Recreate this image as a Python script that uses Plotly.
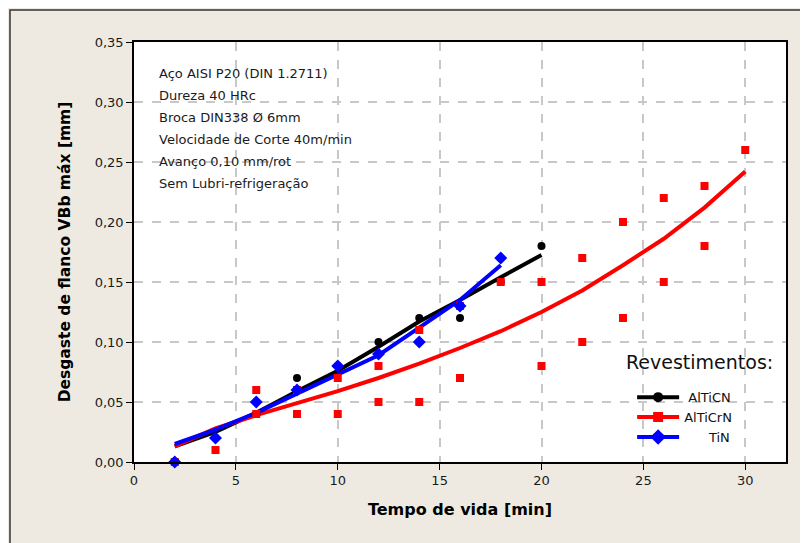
import plotly.graph_objects as go

# ---------------- data ----------------
series_names = ["AlTiCN", "AlTiCrN", "TiN"]

# measured points
altcn_t = [2, 4, 6, 8, 10, 12, 14, 16, 18, 20]
altcn_vb = [0.00, 0.02, 0.04, 0.07, 0.08, 0.10, 0.12, 0.12, 0.15, 0.18]

altcrn_t = [2, 4, 6, 6, 8, 8, 10, 10, 12, 12, 14, 14, 16, 16, 18,
            20, 20, 22, 22, 24, 24, 26, 26, 28, 28, 30]
altcrn_vb = [0.00, 0.01, 0.06, 0.04, 0.06, 0.04, 0.07, 0.04, 0.08, 0.05, 0.11, 0.05,
             0.13, 0.07, 0.15, 0.15, 0.08, 0.17, 0.10, 0.20, 0.12, 0.22, 0.15,
             0.23, 0.18, 0.26]

tin_t = [2, 4, 6, 8, 10, 12, 14, 16, 18]
tin_vb = [0.00, 0.02, 0.05, 0.06, 0.08, 0.09, 0.10, 0.13, 0.17]

# fitted trend lines
altcn_fit_t = [2, 4, 6, 8, 10, 12, 14, 16, 18, 20]
altcn_fit = [0.013, 0.025, 0.041, 0.059, 0.076, 0.096, 0.117, 0.135, 0.154, 0.1725]

altcrn_fit_t = [2, 4, 6, 8, 10, 12, 14, 16, 18, 20, 22, 24, 26, 28, 30]
altcrn_fit = [0.013, 0.028, 0.039, 0.049, 0.059, 0.070, 0.082, 0.095, 0.109,
              0.125, 0.143, 0.164, 0.186, 0.212, 0.242]

tin_fit_t = [2, 4, 6, 8, 10, 12, 14, 16, 18]
tin_fit = [0.015, 0.027, 0.041, 0.057, 0.073, 0.089, 0.112, 0.135, 0.164]

x_ticks = [0, 5, 10, 15, 20, 25, 30]
y_ticks = [0.00, 0.05, 0.10, 0.15, 0.20, 0.25, 0.30, 0.35]

info_lines = [
    "Aço AISI P20 (DIN 1.2711)",
    "Dureza 40 HRc",
    "Broca DIN338 Ø 6mm",
    "Velocidade de Corte 40m/min",
    "Avanço 0,10 mm/rot",
    "Sem Lubri-refrigeração",
]

x_title = "Tempo de vida [min]"
y_title = "Desgaste de flanco VBb máx [mm]"
legend_title = "Revestimentos:"

# ---------------- styles ----------------
colors = ["#000000", "#FF0000", "#0000FF"]
symbols = ["circle", "square", "diamond"]
msizes = [8, 8, 10]
FONT = "DejaVu Sans"
BG = "#EEEAE1"

fig = go.Figure()

fits = [(altcn_fit_t, altcn_fit), (altcrn_fit_t, altcrn_fit), (tin_fit_t, tin_fit)]
pts = [(altcn_t, altcn_vb), (altcrn_t, altcrn_vb), (tin_t, tin_vb)]

for (fx, fy), c in zip(fits, colors):
    fig.add_trace(go.Scatter(x=fx, y=fy, mode="lines", line=dict(color=c, width=4),
                             showlegend=False, hoverinfo="skip"))

for (px, py), c, s, ms in zip(pts, colors, symbols, msizes):
    fig.add_trace(go.Scatter(x=px, y=py, mode="markers",
                             marker=dict(color=c, symbol=s, size=ms),
                             showlegend=False, cliponaxis=False))

# legend entries (names padded to look right-aligned)
pad = {"AlTiCN": 1, "AlTiCrN": 0, "TiN": 6}
for name, c, s, ms in zip(series_names, colors, symbols, msizes):
    fig.add_trace(go.Scatter(x=[None], y=[None], mode="lines+markers",
                             name="\u00a0" * pad[name] + name,
                             line=dict(color=c, width=4),
                             marker=dict(color=c, symbol=s, size=ms + 2)))

# info text annotations
line_step = 22 / 1200.0
for i, txt in enumerate(info_lines):
    fig.add_annotation(x=0.0353, xref="paper", y=0.324 - i * line_step, yref="y",
                       text=txt, showarrow=False, xanchor="left", yanchor="middle",
                       font=dict(family=FONT, size=13, color="#1a1a1a"))

# legend heading
fig.add_annotation(x=0.752, xref="paper", y=0.2385, yref="paper",
                   text=legend_title, showarrow=False, xanchor="left", yanchor="middle",
                   font=dict(family=FONT, size=19, color="#111111"))

# outer frame of the figure
fig.add_shape(type="rect", xref="paper", yref="paper",
              x0=-0.1902, x1=1.3, y0=-0.5, y1=1.0762,
              line=dict(color="#333333", width=1.5), layer="below")

axis_common = dict(
    showline=True, linecolor="black", linewidth=1.5, mirror=True,
    ticks="outside", ticklen=6, tickwidth=1, tickcolor="black",
    showgrid=True, gridcolor="#C8C8C8", gridwidth=1.5, griddash="dash",
    zeroline=False,
    tickfont=dict(family=FONT, size=13, color="#1a1a1a"),
)

fig.update_layout(
    width=800, height=535,
    margin=dict(l=126, r=22, t=34, b=81),
    paper_bgcolor=BG, plot_bgcolor="white",
    separators=",.",
    font=dict(family=FONT, color="#111111"),
    xaxis=dict(range=[0, 32], tickvals=x_ticks,
               title=dict(text="<b>" + x_title + "</b>", standoff=16,
                          font=dict(family=FONT, size=16, color="black")),
               **axis_common),
    yaxis=dict(range=[0, 0.35], tickvals=y_ticks, tickformat=".2f",
               title=dict(text="<b>" + y_title + "</b>", standoff=20,
                          font=dict(family=FONT, size=15.5, color="black")),
               **axis_common),
    legend=dict(x=0.764, y=0.19, xanchor="left", yanchor="top",
                bgcolor="rgba(0,0,0,0)", itemwidth=42,
                font=dict(family=FONT, size=13, color="#111111"),
                tracegroupgap=0),
    showlegend=True,
)

fig.write_html("out.html")
